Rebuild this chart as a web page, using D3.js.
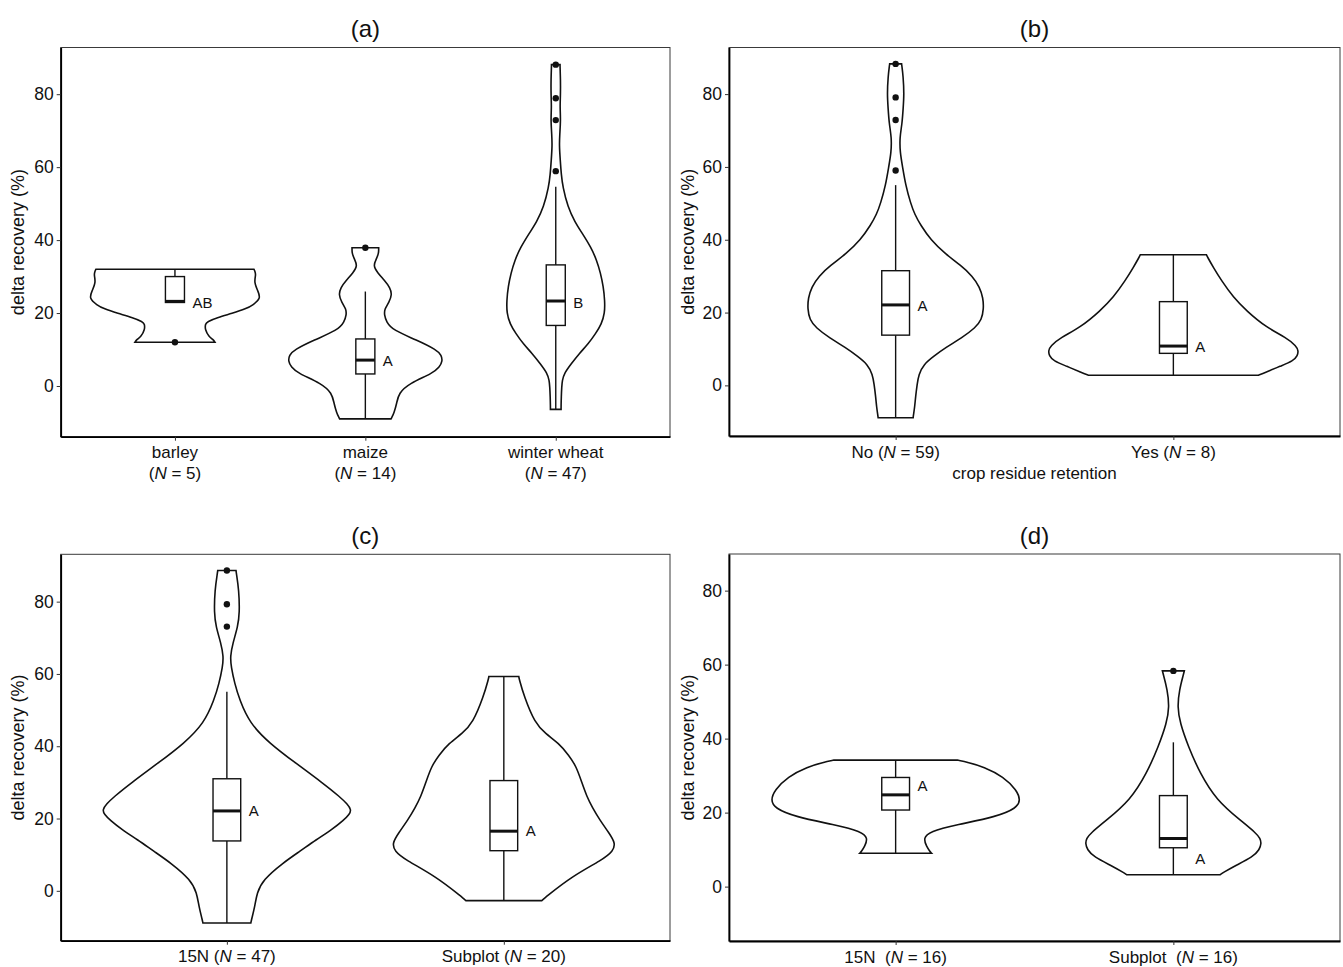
<!DOCTYPE html>
<html>
<head>
<meta charset="utf-8">
<script src="https://cdn.jsdelivr.net/npm/d3@7"></script>
<style>
  html, body { margin: 0; padding: 0; background: #fff; }
  svg { display: block; }
  text { fill: #111; }
</style>
</head>
<body>
<svg id="chart" width="1343" height="967"></svg>
<script>
// ---------------- DATA ----------------
const yTicks = [0, 20, 40, 60, 80];

// panel (a) crop
const catsA = ["barley", "maize", "winter wheat"];
const nA = [5, 14, 47];
const lettersA = ["AB", "A", "B"];
const letterValA = [22.9, 6.8, 22.8];
// [lower whisker, Q1, median, Q3, upper whisker]
const boxA = [
  [22.9, 22.9, 23.2, 30.0, 32.0],
  [-9.0, 3.3, 7.1, 12.9, 25.9],
  [-6.4, 16.6, 23.3, 33.2, 54.6]
];
const outliersA = [[12.0], [37.9], [58.9, 72.9, 78.9, 88.1]];
// violin profiles: [value, relative half-width density]
const violinBarley = [[12.0,.420],[12.8,.40],[13.5,.357],[15.5,.315],[17.0,.32],[17.6,.336],[18.8,.45],[19.9,.599],[21.2,.75],[22.2,.819],[24.0,.903],[26.0,.872],[28.5,.830],[30.5,.851],[31.5,.84],[32.0,.830]];
const violinMaize = [[-9.0,.27],[-8.5,.28],[-7.5,.30],[-4.7,.33],[-2.0,.35],[0.7,.46],[3.5,.71],[5.2,.78],[6.8,.81],[8.4,.80],[9.9,.75],[12.6,.54],[15.3,.29],[17.6,.22],[19.5,.20],[21,.20],[23,.25],[25,.28],[27,.26],[29,.20],[31,.13],[33,.08],[35,.12],[36.5,.14],[37.5,.14],[37.9,.14]];
const violinWheat = [[-6.4,.056],[-5.5,.056],[-3,.058],[-0.2,.063],[1.5,.068],[3.5,.09],[6,.16],[9,.25],[11.5,.34],[14.4,.42],[17,.48],[19.9,.515],[23.5,.515],[27.2,.50],[31,.47],[34.5,.43],[38,.37],[41.8,.28],[45,.20],[49.1,.126],[54.6,.074],[58,.058],[62,.047],[66,.037],[69,.042],[73,.052],[76.5,.044],[80,.05],[84,.05],[87.5,.045],[88.1,.045]];

// panel (b) crop residue retention
const catsB = ["No", "Yes"];
const nB = [59, 8];
const lettersB = ["A", "A"];
const letterValB = [21.9, 10.5];
const boxB = [
  [-8.9, 13.8, 22.1, 31.5, 55.0],
  [2.8, 8.8, 10.8, 23.0, 35.9]
];
const outliersB = [[59.0, 72.9, 79.1, 88.3], []];
const violinNo = [[-8.9,.126],[-8.2,.128],[-6,.137],[-3,.144],[0.3,.155],[3,.166],[5.8,.202],[8,.274],[10.4,.36],[13,.475],[15.9,.576],[18,.619],[21,.634],[24,.63],[27,.605],[30,.554],[33,.468],[36,.36],[40,.252],[44,.18],[47,.137],[50,.108],[55,.072],[60,.05],[64,.032],[68,.029],[72,.047],[76,.054],[80,.061],[85,.054],[87.7,.045],[88.3,.043]];
const violinYes = [[2.8,.612],[3.5,.66],[5.3,.77],[6.7,.864],[8.2,.895],[9.5,.90],[10.8,.886],[13.1,.814],[15.9,.67],[20.5,.526],[24.2,.432],[28.8,.346],[32.4,.288],[35.3,.245],[35.9,.238]];

// panel (c) method, all
const catsC = ["15N", "Subplot"];
const nC = [47, 20];
const lettersC = ["A", "A"];
const letterValC = [22.1, 16.7];
const boxC = [
  [-8.9, 13.8, 22.1, 31.0, 55.1],
  [-2.7, 11.1, 16.5, 30.5, 59.3]
];
const outliersC = [[73.1, 79.3, 88.6], []];
const violin15NC = [[-8.9,.173],[-8.0,.178],[-4.3,.202],[-0.6,.217],[3.0,.26],[7.7,.404],[11.0,.53],[14.1,.643],[17.0,.76],[19.6,.845],[21.2,.885],[22.4,.899],[24.0,.87],[26.0,.816],[29.8,.693],[35.3,.498],[40.8,.308],[46.4,.164],[52.8,.092],[57.4,.056],[62.0,.031],[64.8,.024],[68.5,.043],[73.1,.079],[76.8,.092],[83.2,.087],[88.0,.068],[88.6,.066]];
const violinSubC = [[-2.7,.274],[-1.8,.30],[4.0,.491],[8.6,.712],[11.0,.79],[13.2,.806],[16.0,.76],[19.6,.693],[23.0,.64],[26.1,.599],[30.0,.563],[34.4,.523],[37.5,.47],[40.8,.397],[43.5,.30],[46.4,.224],[53.7,.147],[58.7,.11],[59.3,.108]];

// panel (d) method, paired
const catsD = ["15N", "Subplot"];
const nD = [16, 16];
const lettersD = ["A", "A"];
const letterValD = [27.3, 7.6];
const boxD = [
  [9.0, 20.7, 24.8, 29.5, 34.2],
  [3.2, 10.5, 13.0, 24.6, 39.0]
];
const outliersD = [[], [58.3]];
const violin15ND = [[9.0,.259],[9.6,.245],[10.8,.223],[13.1,.199],[14.9,.245],[16.7,.439],[18.9,.727],[21.2,.871],[23.4,.90],[26.1,.871],[29.7,.778],[32.4,.634],[33.6,.52],[34.2,.446]];
const violinSubD = [[3.2,.336],[3.8,.36],[5.4,.432],[8.1,.576],[10.0,.62],[11.7,.634],[13.0,.625],[14.4,.598],[18.0,.48],[23.4,.31],[30.6,.192],[37.8,.108],[44.2,.048],[48.6,.029],[53.2,.043],[57.7,.075],[58.3,.079]];

const titles = ["(a)", "(b)", "(c)", "(d)"];
const yTitle = "delta recovery (%)";
const xTitleB = "crop residue retention";

// ---------------- LAYOUT ----------------
const panels = [
  { title: titles[0], cats: catsA, n: nA, letters: lettersA, letterVal: letterValA, box: boxA, out: outliersA,
    violins: [violinBarley, violinMaize, violinWheat],
    left: 60.7, right: 670, top: 47.5, bottom: 436.7, yDom: [-13.9, 92.8], ytx: 17.5, twoLine: true, sep: " " },
  { title: titles[1], cats: catsB, n: nB, letters: lettersB, letterVal: letterValB, box: boxB, out: outliersB,
    violins: [violinNo, violinYes],
    left: 729, right: 1340, top: 47.5, bottom: 436, yDom: [-13.9, 92.8], ytx: 688, twoLine: false, sep: " ", xTitle: xTitleB },
  { title: titles[2], cats: catsC, n: nC, letters: lettersC, letterVal: letterValC, box: boxC, out: outliersC,
    violins: [violin15NC, violinSubC],
    left: 60.7, right: 670, top: 554.3, bottom: 940.7, yDom: [-13.8, 93.1], ytx: 17.5, twoLine: false, sep: " " },
  { title: titles[3], cats: catsD, n: nD, letters: lettersD, letterVal: letterValD, box: boxD, out: outliersD,
    violins: [violin15ND, violinSubD],
    left: 729, right: 1340, top: 554, bottom: 941, yDom: [-14.7, 89.9], ytx: 688, twoLine: false, sep: "  " }
];

const svg = d3.select("#chart");
const FONT = "'Liberation Sans', Arial, Helvetica, sans-serif";

panels.forEach(p => {
  const g = svg.append("g");
  const x = d3.scalePoint().domain(p.cats).range([p.left, p.right]).padding(0.6);
  const y = d3.scaleLinear().domain(p.yDom).range([p.bottom, p.top]);
  const half = x.step() / 2;
  const boxHalf = x.step() * 0.05;

  // panel border (thin)
  g.append("rect")
    .attr("x", p.left).attr("y", p.top)
    .attr("width", p.right - p.left).attr("height", p.bottom - p.top)
    .attr("fill", "none").attr("stroke", "#3a3a3a").attr("stroke-width", 1);

  // violins
  p.cats.forEach((c, i) => {
    const cx = x(c);
    const area = d3.area()
      .y(d => y(d[0]))
      .x0(d => cx - d[1] * half)
      .x1(d => cx + d[1] * half)
      .curve(d3.curveBasis);
    g.append("path")
      .attr("d", area(p.violins[i]))
      .attr("fill", "#fff").attr("stroke", "#111").attr("stroke-width", 1.6);

    const b = p.box[i];
    // whiskers
    g.append("line").attr("x1", cx).attr("x2", cx).attr("y1", y(b[3])).attr("y2", y(b[4]))
      .attr("stroke", "#111").attr("stroke-width", 1.4);
    g.append("line").attr("x1", cx).attr("x2", cx).attr("y1", y(b[0])).attr("y2", y(b[1]))
      .attr("stroke", "#111").attr("stroke-width", 1.4);
    // box
    g.append("rect").attr("x", cx - boxHalf).attr("y", y(b[3]))
      .attr("width", boxHalf * 2).attr("height", y(b[1]) - y(b[3]))
      .attr("fill", "#fff").attr("stroke", "#111").attr("stroke-width", 1.4);
    // median
    g.append("line").attr("x1", cx - boxHalf).attr("x2", cx + boxHalf)
      .attr("y1", y(b[2])).attr("y2", y(b[2]))
      .attr("stroke", "#111").attr("stroke-width", 3);
    // outliers
    g.selectAll(null).data(p.out[i]).enter().append("circle")
      .attr("cx", cx).attr("cy", d => y(d)).attr("r", 3.2).attr("fill", "#111");
    // significance letter
    g.append("text")
      .attr("x", cx + boxHalf + 8).attr("y", y(p.letterVal[i]))
      .attr("dy", "0.35em")
      .style("font-family", FONT).style("font-size", "15px")
      .text(p.letters[i]);
  });

  // y axis
  const ya = g.append("g").attr("transform", `translate(${p.left},0)`)
    .call(d3.axisLeft(y).tickValues(yTicks).tickSize(4).tickSizeOuter(0).tickPadding(3));
  ya.select(".domain").attr("stroke", "#000").attr("stroke-width", 1.8);
  ya.selectAll(".tick line").attr("stroke", "#333").attr("stroke-width", 1);
  ya.selectAll(".tick text").style("font-family", FONT).style("font-size", "17.5px").attr("fill", "#111");

  // x axis
  const xa = g.append("g").attr("transform", `translate(0,${p.bottom})`)
    .call(d3.axisBottom(x).tickSize(4).tickSizeOuter(0).tickFormat(""));
  xa.select(".domain").attr("stroke", "#000").attr("stroke-width", 1.8);
  xa.selectAll(".tick line").attr("stroke", "#333").attr("stroke-width", 1);

  // x labels
  p.cats.forEach((c, i) => {
    const t = g.append("text")
      .attr("x", x(c)).attr("y", p.bottom + 21.5)
      .attr("text-anchor", "middle")
      .style("font-family", FONT).style("font-size", "17px")
      .style("white-space", "pre");
    if (p.twoLine) {
      t.append("tspan").attr("x", x(c)).text(c);
      const t2 = t.append("tspan").attr("x", x(c)).attr("dy", "1.25em");
      t2.append("tspan").text("(");
      t2.append("tspan").style("font-style", "italic").text("N");
      t2.append("tspan").text(" = " + p.n[i] + ")");
    } else {
      t.append("tspan").text(c + p.sep + "(");
      t.append("tspan").style("font-style", "italic").text("N");
      t.append("tspan").text(" = " + p.n[i] + ")");
    }
  });

  if (p.xTitle) {
    g.append("text")
      .attr("x", (p.left + p.right) / 2).attr("y", p.bottom + 43)
      .attr("text-anchor", "middle")
      .style("font-family", FONT).style("font-size", "17px")
      .text(p.xTitle);
  }

  // y title
  g.append("text")
    .attr("transform", `translate(${p.ytx},${(p.top + p.bottom) / 2}) rotate(-90)`)
    .attr("text-anchor", "middle").attr("dy", "0.35em")
    .style("font-family", FONT).style("font-size", "18px")
    .text(yTitle);

  // panel title
  g.append("text")
    .attr("x", (p.left + p.right) / 2).attr("y", p.top - 10.5)
    .attr("text-anchor", "middle")
    .style("font-family", FONT).style("font-size", "24px")
    .text(p.title);
});
</script>
</body>
</html>
